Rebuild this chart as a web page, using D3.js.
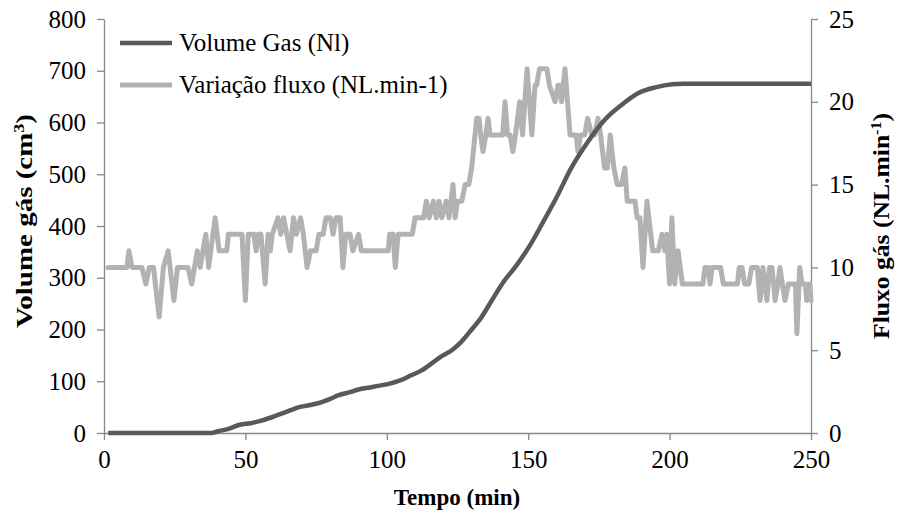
<!DOCTYPE html>
<html>
<head>
<meta charset="utf-8">
<script src="https://cdn.jsdelivr.net/npm/d3@7"></script>
<style>
  body { margin: 0; background: #fff; }
  text { font-family: "Liberation Serif", "Times New Roman", serif; }
</style>
</head>
<body>
<div id="chart"></div>
<script>
// volume acumulado (cm3) x tempo (min)
var volT = [1.5, 38, 40, 44, 48, 52, 55, 58, 62, 66, 69, 72, 76, 80, 83, 87, 90, 94, 98, 102, 105, 108, 112, 116, 119, 123, 126, 130, 133, 137, 141, 146, 151, 155, 160, 165, 171, 177, 183, 189, 195, 201, 205, 250];
var volV = [0, 0, 3, 8, 16, 19, 23, 28, 36, 44, 50, 53, 58, 66, 73, 79, 84, 88, 92, 97, 102, 110, 120, 135, 147, 160, 174, 200, 220, 255, 290, 325, 366, 405, 455, 510, 562, 605, 634, 657, 668, 674, 675, 675];

// variacao do fluxo (NL.min-1)
var fluxT = [1.4, 8.1, 8.8, 9.9, 13.4, 14.8, 16, 17.5, 19.5, 21, 22.7, 24.7, 26, 29.7, 31, 32, 33, 34, 36, 37, 39.3, 40.7, 43.4, 44, 48.8, 50, 51, 53, 53.8, 54.5, 55.5, 57, 58, 58.8, 59.5, 61.5, 62.5, 63.5, 65.8, 67, 68, 69.5, 70.5, 71.8, 73, 75, 76, 77.5, 78.5, 80, 81, 82, 83.5, 84.5, 85.5, 87, 88, 90, 91, 100.5, 101, 102.2, 103, 104, 109, 110, 113, 114, 115, 116.5, 117.5, 118.5, 119.5, 121, 122, 123.4, 124.2, 125, 126.5, 127.7, 129, 130, 131.8, 132.6, 133.2, 134, 135, 135.8, 136.5, 141, 141.8, 142.7, 143.6, 144.6, 145.5, 147, 148, 149.6, 151.3, 152.4, 153, 154, 156.6, 157.5, 159.5, 160.5, 161, 161.8, 163, 164.8, 167, 167.6, 168.5, 170, 171, 172.5, 173.5, 174.7, 175.6, 177, 178, 179, 180.3, 181.5, 183, 184.2, 185, 187.8, 188.5, 189.5, 190.6, 192, 194, 196, 197.3, 198.3, 199, 200, 200.8, 201.8, 203, 204.5, 211.8, 212.5, 213.6, 214.3, 215, 218, 219, 224, 224.6, 225.6, 226.5, 228, 229, 231, 231.5, 232, 233, 234.4, 235.3, 236.2, 237.3, 238.3, 239, 240.8, 242, 244.5, 245, 246, 246.8, 248, 248.5, 249.3, 249.6, 250];
var fluxV = [10, 10, 11, 10, 10, 9, 10, 10, 7, 10, 11, 8, 10, 10, 9, 10, 11, 10, 12, 10, 13, 11, 11, 12, 12, 8, 12, 12, 11, 12, 12, 9, 12, 11, 12, 13, 12, 13, 11, 13, 12, 13, 12, 10, 11, 11, 12, 12, 13, 13, 12, 13, 13, 10, 12, 12, 11, 12, 11, 11, 12, 12, 10, 12, 12, 13, 13, 14, 13, 14, 13, 14, 13, 14, 13, 15, 13, 14, 14, 15, 15, 16, 19, 19, 18, 17, 18, 19, 18, 18, 20, 18, 18, 17, 18, 20, 18, 22, 18, 21, 21, 22, 22, 21, 20, 21, 21, 20, 22, 18, 18, 17, 18, 18, 19, 18, 18, 19, 18, 16, 16, 18, 16, 15, 15, 16, 14, 14, 13, 13, 10, 14, 11, 11, 12, 11, 12, 9, 13, 9, 11, 9, 9, 10, 10, 9, 10, 10, 9, 9, 10, 10, 9, 9, 10, 10, 9, 8, 10, 8, 10, 10, 8, 9, 10, 8, 9, 9, 6, 10, 9, 9, 8, 9, 9, 8];

var xTicks = [0, 50, 100, 150, 200, 250];
var volTicks = [0, 100, 200, 300, 400, 500, 600, 700, 800];
var fluxTicks = [0, 5, 10, 15, 20, 25];
var seriesNames = ["Volume Gas (Nl)", "Variação fluxo (NL.min-1)"];

var colors = ["#595959", "#b2b2b2"];
var axisColor = "#898989";

var W = 898, H = 519;
var pLeft = 104, pRight = 811, pTop = 19, pBottom = 433;

var svg = d3.select("#chart").append("svg")
  .attr("width", W)
  .attr("height", H);

var x = d3.scaleLinear().domain([0, 250]).range([pLeft, pRight]);
var yVol = d3.scaleLinear().domain([0, 800]).range([pBottom, pTop]);
var yFlux = d3.scaleLinear().domain([0, 25]).range([pBottom, pTop]);

function styleAxis(g) {
  g.selectAll("path, line").attr("stroke", axisColor).attr("stroke-width", 1.3);
  g.selectAll("text")
    .style("font-family", "'Liberation Serif', 'Times New Roman', serif")
    .style("font-size", "25px")
    .attr("fill", "#000");
}

// eixo x
svg.append("g")
  .attr("transform", "translate(0," + pBottom + ")")
  .call(d3.axisBottom(x).tickValues(xTicks).tickSize(7).tickSizeOuter(0).tickPadding(10))
  .call(styleAxis);

// eixo volume (esquerda)
svg.append("g")
  .attr("transform", "translate(" + pLeft + ",0)")
  .call(d3.axisLeft(yVol).tickValues(volTicks).tickSize(7).tickSizeOuter(0).tickPadding(11))
  .call(styleAxis);

// eixo fluxo (direita)
svg.append("g")
  .attr("transform", "translate(" + pRight + ",0)")
  .call(d3.axisRight(yFlux).tickValues(fluxTicks).tickSize(7).tickSizeOuter(0).tickPadding(11))
  .call(styleAxis);

// linhas
var fluxData = fluxT.map(function(t, i) { return [t, fluxV[i]]; });
var volData = volT.map(function(t, i) { return [t, volV[i]]; });

svg.append("path")
  .datum(fluxData)
  .attr("fill", "none")
  .attr("stroke", colors[1])
  .attr("stroke-width", 5)
  .attr("stroke-linejoin", "round")
  .attr("stroke-linecap", "round")
  .attr("d", d3.line().x(function(d) { return x(d[0]); }).y(function(d) { return yFlux(d[1]); }));

svg.append("path")
  .datum(volData)
  .attr("fill", "none")
  .attr("stroke", colors[0])
  .attr("stroke-width", 4.5)
  .attr("stroke-linejoin", "round")
  .attr("d", d3.line().curve(d3.curveMonotoneX).x(function(d) { return x(d[0]); }).y(function(d) { return yVol(d[1]); }));

// legenda
for (var i = 0; i < 2; i++) {
  svg.append("line")
    .attr("x1", 120).attr("x2", 172)
    .attr("y1", 43 + i * 42).attr("y2", 43 + i * 42)
    .attr("stroke", colors[i])
    .attr("stroke-width", i == 0 ? 4.5 : 5);
  svg.append("text")
    .attr("x", 179)
    .attr("y", 51 + i * 42)
    .text(seriesNames[i])
    .style("font-size", "25px")
    .attr("fill", "#000");
}

// titulos dos eixos
svg.append("text")
  .attr("x", 457).attr("y", 505)
  .attr("text-anchor", "middle")
  .style("font-size", "23px")
  .style("font-weight", "bold")
  .text("Tempo (min)");

var lt = svg.append("text")
  .attr("transform", "translate(32,221) rotate(-90)")
  .attr("text-anchor", "middle")
  .attr("textLength", 214)
  .attr("lengthAdjust", "spacingAndGlyphs")
  .style("font-size", "24px")
  .style("font-weight", "bold");
lt.append("tspan").text("Volume gás (cm");
lt.append("tspan").attr("dy", -8).style("font-size", "15px").text("3");
lt.append("tspan").attr("dy", 8).text(")");

var rt = svg.append("text")
  .attr("transform", "translate(889,226) rotate(-90)")
  .attr("text-anchor", "middle")
  .attr("textLength", 226)
  .attr("lengthAdjust", "spacingAndGlyphs")
  .style("font-size", "24px")
  .style("font-weight", "bold");
rt.append("tspan").text("Fluxo gás (NL.min");
rt.append("tspan").attr("dy", -8).style("font-size", "15px").text("-1");
rt.append("tspan").attr("dy", 8).text(")");
</script>
</body>
</html>
